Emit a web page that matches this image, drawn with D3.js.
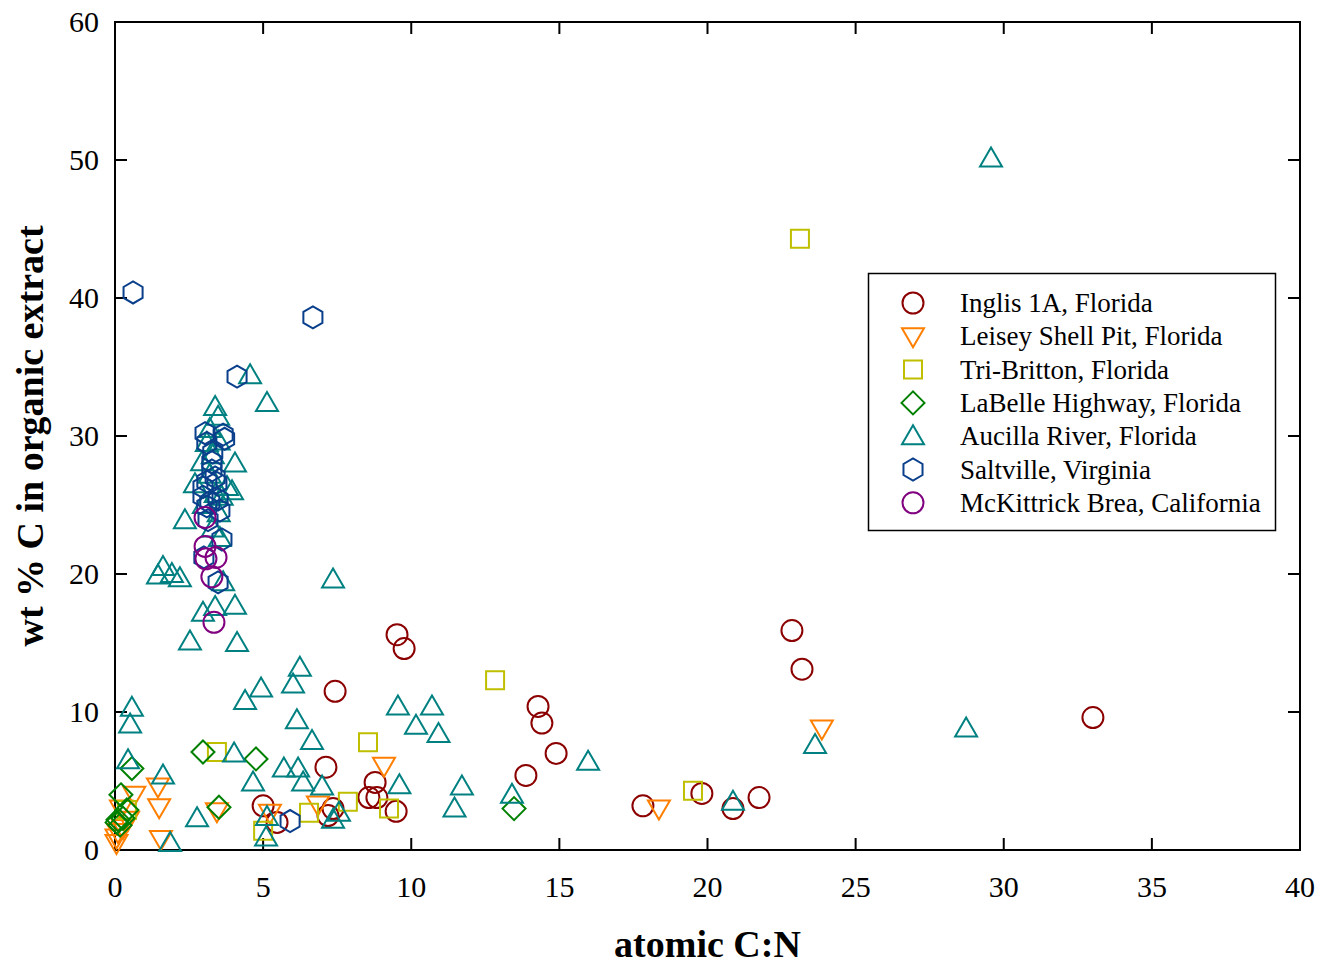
<!DOCTYPE html>
<html>
<head>
<meta charset="utf-8">
<script src="https://cdn.jsdelivr.net/npm/d3@7"></script>
<style>
  html, body { margin: 0; padding: 0; background: #fff; }
  svg text { font-family: "Liberation Serif", "Times New Roman", serif; fill: #000; }
  .tick-label { font-size: 30px; }
  .axis-title { font-size: 38px; font-weight: bold; }
  .legend-text { font-size: 27px; }
</style>
</head>
<body>
<svg id="chart" width="1322" height="964"></svg>
<script>
// values: [atomic C:N, wt % C]
const inglis = [[9.52,15.6],[9.76,14.6],[7.43,11.5],[7.12,6.0],[5.0,3.2],[5.47,2.0],[8.78,4.9],[8.57,3.8],[8.84,3.8],[9.49,2.8],[7.36,3.0],[7.19,2.5],[14.28,10.4],[14.41,9.2],[14.89,7.0],[13.87,5.4],[17.82,3.2],[22.85,15.9],[23.19,13.1],[19.81,4.1],[20.86,3.0],[21.74,3.8],[33.01,9.6]];
const leisey = [[23.86,8.8],[18.36,3.0],[9.08,6.1],[6.85,3.3],[5.23,2.7],[1.45,4.6],[1.49,3.1],[1.55,0.8],[3.44,2.8],[0.65,4.0],[0.2,3.0],[0.44,2.2],[0.27,1.6],[0.1,1.3],[0.05,0.9],[0.05,0.5]];
const triBritton = [[23.12,44.3],[12.83,12.3],[8.54,7.8],[7.86,3.5],[6.55,2.7],[9.25,3.0],[19.51,4.3],[3.44,7.1],[5.0,1.4],[0.4,2.9]];
const labelle = [[13.47,3.0],[2.97,7.1],[4.76,6.6],[3.51,3.1],[0.57,5.9],[0.2,4.0],[0.4,2.9],[0.27,2.3],[0.07,2.0],[0.17,1.8],[0.1,2.2]];
const aucilla = [[29.57,50.1],[28.73,8.8],[23.63,7.6],[20.86,3.5],[15.97,6.4],[13.4,4.0],[11.71,4.6],[11.46,3.0],[10.92,8.4],[10.7,10.4],[10.16,9.0],[9.55,10.4],[9.6,4.7],[7.36,19.6],[6.24,13.2],[6.01,12.0],[6.14,9.4],[6.65,7.9],[5.7,5.9],[6.18,5.9],[6.35,4.9],[6.99,4.6],[7.56,2.7],[7.36,2.2],[0.57,10.3],[0.51,9.1],[0.44,6.5],[1.62,5.4],[1.86,0.5],[2.77,2.3],[4.02,7.0],[4.66,4.9],[4.39,10.8],[4.93,11.7],[5.13,2.4],[5.1,0.9],[1.62,20.5],[1.45,19.9],[1.92,20.0],[2.19,19.7],[2.36,23.9],[2.53,15.1],[2.97,17.2],[3.38,17.6],[4.05,17.7],[4.12,15.0],[3.65,19.4],[3.54,22.6],[2.7,26.5],[3.78,26.3],[4.05,28.0],[3.95,26.0],[4.56,34.4],[5.13,32.4],[3.38,32.1],[3.48,31.4],[2.94,28.1],[3.1,29.5],[3.3,28.6],[3.5,29.6],[3.2,27.2],[3.4,25.8],[3.0,25.0],[3.5,24.4],[3.3,23.3],[3.6,25.6],[3.2,30.5]];
const saltville = [[0.61,40.4],[6.68,38.6],[4.12,34.3],[5.91,2.1],[3.04,30.2],[3.65,30.1],[3.1,29.5],[3.7,29.8],[3.27,28.1],[3.27,27.5],[3.1,26.7],[3.38,27.0],[2.97,26.3],[3.44,26.6],[2.97,25.6],[3.48,25.4],[3.1,24.9],[3.54,24.6],[3.14,23.9],[3.61,22.5],[3.48,19.4],[3.0,21.2],[3.3,28.8],[3.2,25.2]];
const mckittrick = [[3.04,24.1],[3.04,22.0],[3.07,21.1],[3.41,21.2],[3.27,19.8],[3.34,16.5]];

const seriesNames = ["Inglis 1A, Florida", "Leisey Shell Pit, Florida", "Tri-Britton, Florida", "LaBelle Highway, Florida", "Aucilla River, Florida", "Saltville, Virginia", "McKittrick Brea, California"];
const seriesData = [inglis, leisey, triBritton, labelle, aucilla, saltville, mckittrick];
const seriesShapes = ["circle", "triangleDown", "square", "diamond", "triangleUp", "hexagon", "circle"];
const seriesColors = ["#8b0000", "#ff7f00", "#bfbf00", "#008000", "#008080", "#0a3f8c", "#800080"];

const xTicks = [0, 5, 10, 15, 20, 25, 30, 35, 40];
const yTicks = [0, 10, 20, 30, 40, 50, 60];

const width = 1322, height = 964;
const margin = { top: 22, right: 22, bottom: 114, left: 115 };

const svg = d3.select("#chart");
const x = d3.scaleLinear().domain([0, 40]).range([margin.left, width - margin.right]);
const y = d3.scaleLinear().domain([0, 60]).range([height - margin.bottom, margin.top]);

function shapePath(shape) {
	const pts = (list) => "M" + list.map((p) => p.join(",")).join("L") + "Z";
	switch (shape) {
		case "circle":
			return "M10.5,0A10.5,10.5 0 1,1 -10.5,0A10.5,10.5 0 1,1 10.5,0Z";
		case "square":
			return pts([[-9, -9], [9, -9], [9, 9], [-9, 9]]);
		case "diamond":
			return pts([[0, -11.5], [11.5, 0], [0, 11.5], [-11.5, 0]]);
		case "triangleUp":
			return pts([[0, -11], [11, 8], [-11, 8]]);
		case "triangleDown":
			return pts([[0, 11], [11, -8], [-11, -8]]);
		case "hexagon":
			return pts(d3.range(6).map((i) => {
				const a = (Math.PI / 3) * i + Math.PI / 6;
				return [11 * Math.cos(a), 11 * Math.sin(a)];
			}));
	}
}

// frame
svg.append("rect")
	.attr("x", x(0)).attr("y", y(60))
	.attr("width", x(40) - x(0)).attr("height", y(0) - y(60))
	.attr("fill", "none").attr("stroke", "#000").attr("stroke-width", 2);

// inward ticks on all four sides
const tickLen = 12;
const tickG = svg.append("g").attr("stroke", "#000").attr("stroke-width", 2);
xTicks.slice(1, -1).forEach((t) => {
	tickG.append("line").attr("x1", x(t)).attr("x2", x(t)).attr("y1", y(0)).attr("y2", y(0) - tickLen);
	tickG.append("line").attr("x1", x(t)).attr("x2", x(t)).attr("y1", y(60)).attr("y2", y(60) + tickLen);
});
yTicks.slice(1, -1).forEach((t) => {
	tickG.append("line").attr("x1", x(0)).attr("x2", x(0) + tickLen).attr("y1", y(t)).attr("y2", y(t));
	tickG.append("line").attr("x1", x(40)).attr("x2", x(40) - tickLen).attr("y1", y(t)).attr("y2", y(t));
});

// tick labels
svg.append("g").selectAll("text").data(xTicks).join("text")
	.attr("class", "tick-label")
	.attr("x", (d) => x(d)).attr("y", y(0) + 47)
	.attr("text-anchor", "middle").text((d) => d);
svg.append("g").selectAll("text").data(yTicks).join("text")
	.attr("class", "tick-label")
	.attr("x", x(0) - 16).attr("y", (d) => y(d) + 10)
	.attr("text-anchor", "end").text((d) => d);

// axis titles
svg.append("text").attr("class", "axis-title")
	.attr("x", (x(0) + x(40)) / 2).attr("y", 957)
	.attr("text-anchor", "middle").text("atomic C:N");
svg.append("text").attr("class", "axis-title")
	.attr("transform", `translate(43,${(y(0) + y(60)) / 2}) rotate(-90)`)
	.attr("text-anchor", "middle").text("wt % C in organic extract");

// points
seriesData.forEach((rows, i) => {
	svg.append("g").selectAll("path").data(rows).join("path")
		.attr("transform", (d) => `translate(${x(d[0])},${y(d[1])})`)
		.attr("d", shapePath(seriesShapes[i]))
		.attr("fill", "none")
		.attr("stroke", seriesColors[i])
		.attr("stroke-width", 2);
});

// legend
const legend = svg.append("g");
legend.append("rect")
	.attr("x", 868.5).attr("y", 273.5).attr("width", 407).attr("height", 257)
	.attr("fill", "#fff").attr("stroke", "#000").attr("stroke-width", 1.5);
seriesNames.forEach((name, i) => {
	const cy = 303 + i * 33.3;
	legend.append("path")
		.attr("transform", `translate(913,${cy})`)
		.attr("d", shapePath(seriesShapes[i]))
		.attr("fill", "none").attr("stroke", seriesColors[i]).attr("stroke-width", 2);
	legend.append("text").attr("class", "legend-text")
		.attr("x", 960).attr("y", cy + 9).text(name);
});
</script>
</body>
</html>
